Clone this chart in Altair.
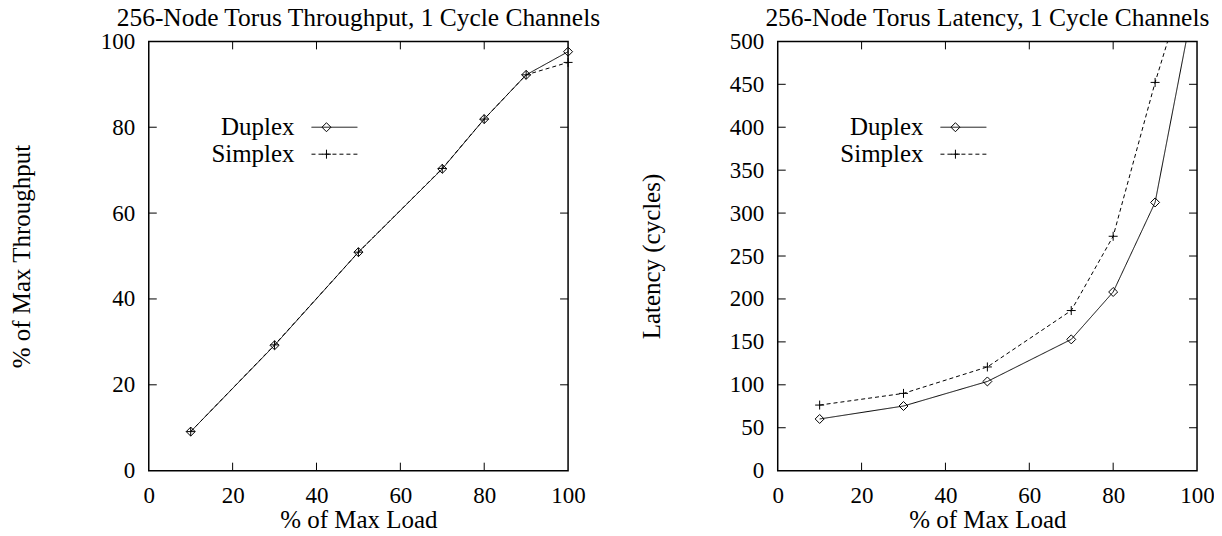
import altair as alt
import pandas as pd

# ---- data ----
load = [10, 30, 50, 70, 80, 90, 100]
series = ["Duplex", "Simplex"]
thr_duplex = [9.1, 29.2, 50.9, 70.3, 81.9, 92.2, 97.6]
thr_simplex = [9.1, 29.3, 50.9, 70.4, 81.9, 92.2, 95.1]
lat_duplex = [60.2, 75.3, 103.9, 152.9, 208.1, 312.4, 566.0]
lat_simplex = [76.4, 90.0, 120.8, 186.5, 273.0, 452.2, 612.0]
x_ticks = [0, 20, 40, 60, 80, 100]
thr_ticks = [0, 20, 40, 60, 80, 100]
lat_ticks = [0, 50, 100, 150, 200, 250, 300, 350, 400, 450, 500]
titles = ["256-Node Torus Throughput, 1 Cycle Channels",
          "256-Node Torus Latency, 1 Cycle Channels"]
y_titles = ["% of Max Throughput", "Latency (cycles)"]
x_title = "% of Max Load"

FONT = "Liberation Serif"
FS_CHART = 25.5  # chart titles
FS_TITLE = 25    # axis titles
FS_LEG = 25      # legend
FS_TICK = 23     # tick labels
W, H = 420, 430
TICK = 8
PLUS = "M-1,0L1,0M0,-1L0,1"


def long_df(d, s):
    return pd.DataFrame({
        "load": load + load,
        "value": d + s,
        "series": [series[0]] * len(load) + [series[1]] * len(load),
    })


def panel(df, ymax, yticks, title, ytitle, title_x, clip):
    xs = alt.Scale(domain=[0, 100], nice=False, zero=False)
    ys = alt.Scale(domain=[0, ymax], nice=False, zero=False)
    xax = alt.Axis(values=x_ticks, title=x_title, format="d", labelPadding=14,
                   titlePadding=0, grid=False, domain=False, ticks=False,
                   tickSize=0, labelFlush=False, labelOverlap=False)
    yax = alt.Axis(values=yticks, title=ytitle, format="d", labelPadding=14,
                   grid=False, domain=False, ticks=False, tickSize=0,
                   labelOverlap=False, titleX=title_x, titleY=H / 2,
                   titleAngle=270, titleAlign="center", titleBaseline="middle")
    x = alt.X("load:Q", scale=xs, axis=xax)
    y = alt.Y("value:Q", scale=ys, axis=yax)
    dash_scale = alt.Scale(domain=series, range=[[1, 0], [4, 3]])
    shape_scale = alt.Scale(domain=series, range=["diamond", PLUS])
    dash = alt.StrokeDash("series:N", scale=dash_scale, legend=None)
    shape = alt.Shape("series:N", scale=shape_scale, legend=None)

    base = alt.Chart(df)
    lines = base.mark_line(color="black", strokeWidth=1, clip=clip).encode(
        x=x, y=y, strokeDash=dash)
    pts = base.mark_point(color="black", filled=False, strokeWidth=1, size=81,
                          opacity=1, clip=clip).encode(x=x, y=y, shape=shape)

    xt = pd.DataFrame({"load": x_ticks[1:-1]})
    yt = pd.DataFrame({"value": yticks[1:-1]})
    rule = dict(color="black", strokeWidth=1)
    ticks = [
        alt.Chart(xt).mark_rule(**rule).encode(x=x, y=alt.value(0), y2=alt.value(TICK)),
        alt.Chart(xt).mark_rule(**rule).encode(x=x, y=alt.value(H), y2=alt.value(H - TICK)),
        alt.Chart(yt).mark_rule(**rule).encode(y=y, x=alt.value(0), x2=alt.value(TICK)),
        alt.Chart(yt).mark_rule(**rule).encode(y=y, x=alt.value(W), x2=alt.value(W - TICK)),
    ]

    legend = []
    for i, name in enumerate(series):
        ly = 86 + 27 * i
        ldf = pd.DataFrame({"series": [name]})
        lb = alt.Chart(ldf)
        legend.append(lb.mark_text(align="right", baseline="middle", font=FONT,
                                   fontSize=FS_LEG, color="black").encode(
            text="series:N", x=alt.value(146), y=alt.value(ly)))
        legend.append(lb.mark_rule(color="black", strokeWidth=1).encode(
            x=alt.value(163), x2=alt.value(209), y=alt.value(ly),
            strokeDash=dash))
        legend.append(lb.mark_point(color="black", filled=False, strokeWidth=1,
                                    size=81, opacity=1).encode(
            x=alt.value(178), y=alt.value(ly), shape=shape))

    return alt.layer(lines, pts, *ticks, *legend).properties(
        width=W, height=H,
        title=alt.TitleParams(text=title, font=FONT, fontSize=FS_CHART,
                              fontWeight="normal", color="black",
                              anchor="middle", frame="group", offset=-1.5),
    )


left = panel(long_df(thr_duplex, thr_simplex), 100, thr_ticks, titles[0],
             y_titles[0], -127.5, False)
right = panel(long_df(lat_duplex, lat_simplex), 500, lat_ticks, titles[1],
              y_titles[1], -126, True)

chart = alt.hconcat(left, right, spacing=210, bounds="flush").properties(
    padding={"left": 0, "top": -3, "right": -1, "bottom": -5}
).configure_axis(
    labelFont=FONT, labelFontSize=FS_TICK, labelColor="black",
    titleFont=FONT, titleFontSize=FS_TITLE, titleFontWeight="normal",
    titleColor="black",
).configure_view(stroke="black", strokeWidth=1.5)

chart.save("out.html", embed_options={"renderer": "svg", "actions": False})
